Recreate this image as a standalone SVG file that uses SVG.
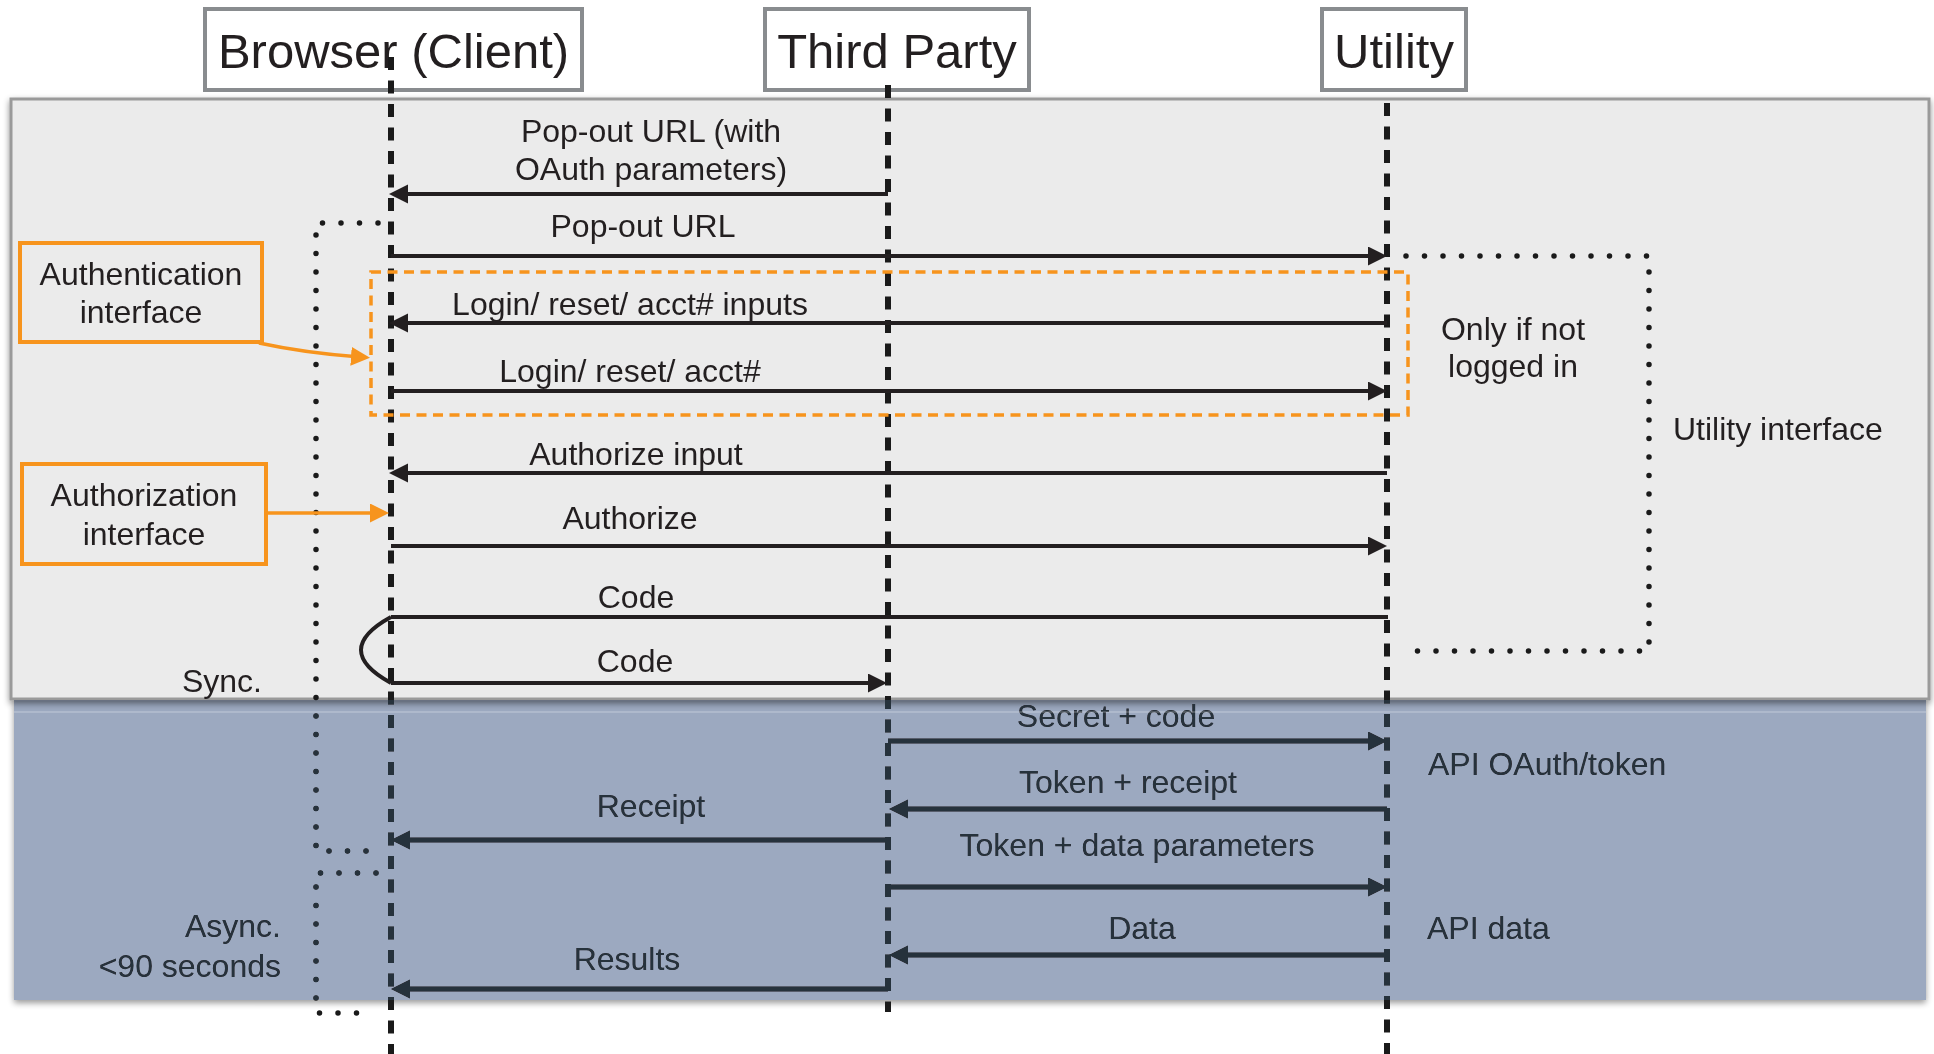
<svg xmlns="http://www.w3.org/2000/svg" width="1934" height="1054" viewBox="0 0 1934 1054">
  <defs>
    <style>
      text{font-family:"Liberation Sans",Arial,Helvetica,sans-serif;fill:#231f20;font-size:32px}
      .title{font-size:49px;text-anchor:middle}
      .c{text-anchor:middle}
      .e{text-anchor:end}
      .lifeline{fill:none;stroke:#1a1a1a;stroke-width:6;stroke-dasharray:13 10.5}
      .msg{fill:none;stroke:#231f20;stroke-width:4}
      .api{stroke-width:5}
      .dots{fill:none;stroke:#1a1a1a;stroke-width:5.5;stroke-linecap:round;stroke-dasharray:0 18.5}
      .hdr{fill:#fff;stroke:#898c8f;stroke-width:4}
      .note{fill:none;stroke:#f7941d;stroke-width:4}
      .pointer{fill:none;stroke:#f7941d;stroke-width:3.5}
      .group{fill:none;stroke:#f7941d;stroke-width:3.5;stroke-dasharray:10 6.5}
    </style>
    <marker id="ah" markerUnits="userSpaceOnUse" markerWidth="20" markerHeight="20" refX="9" refY="9.5" orient="auto">
      <path d="M0,0 L19,9.5 L0,19z" fill="#231f20"/>
    </marker>
    <marker id="ahO" markerUnits="userSpaceOnUse" markerWidth="20" markerHeight="20" refX="9" refY="9.5" orient="auto">
      <path d="M0,0 L19,9.5 L0,19z" fill="#f7941d"/>
    </marker>
    <filter id="shadow" x="-3%" y="-5%" width="106%" height="112%">
      <feDropShadow dx="0" dy="3" stdDeviation="3" flood-color="#000" flood-opacity="0.45"/>
    </filter>
    <filter id="blur" x="-3%" y="-10%" width="106%" height="120%">
      <feGaussianBlur stdDeviation="3"/>
    </filter>
    <clipPath id="outsideApi">
      <path clip-rule="evenodd" d="M0 0H1934V1054H0Z M14 700H1926V1000H14Z"/>
    </clipPath>
  </defs>

  <rect width="1934" height="1054" fill="#fff"/>

  <!-- shadow of the API band, kept outside the band itself -->
  <g clip-path="url(#outsideApi)">
    <rect x="14" y="703" width="1912" height="300" fill="#000" opacity="0.4" filter="url(#blur)"/>
  </g>

  <!-- utility interface panel -->
  <rect id="panel-ui" x="11" y="99" width="1918" height="600" fill="#ebebeb" stroke="#9a9a9a" stroke-width="3" filter="url(#shadow)"/>

  <!-- participants -->
  <g id="browser">
    <rect class="hdr" x="205" y="9" width="377" height="81"/>
    <text class="title" x="393.5" y="68">Browser (Client)</text>
  </g>
  <g id="third-party">
    <rect class="hdr" x="765" y="9" width="264" height="81"/>
    <text class="title" x="897" y="68">Third Party</text>
  </g>
  <g id="utility">
    <rect class="hdr" x="1322" y="9" width="144" height="81"/>
    <text class="title" x="1394" y="68">Utility</text>
  </g>

  <!-- lifelines -->
  <g id="lifelines">
    <line class="lifeline" x1="391" y1="57" x2="391" y2="1054"/>
    <line class="lifeline" x1="888" y1="85" x2="888" y2="1012"/>
    <line class="lifeline" x1="1387" y1="103" x2="1387" y2="1054"/>
  </g>

  <!-- dotted brackets -->
  <g id="sync-bracket">
    <path class="dots" d="M378,223 H316 V851 H372"/>
    <text class="e" x="262" y="692">Sync.</text>
  </g>
  <g id="async-bracket">
    <path class="dots" d="M376,873 H316 V1013 H374"/>
    <text class="e" x="281" y="937">Async.</text>
    <text class="e" x="281" y="977">&lt;90 seconds</text>
  </g>
  <g id="utility-interface">
    <path class="dots" d="M1406,256 H1649 V651 H1412"/>
    <text x="1673" y="440">Utility interface</text>
  </g>

  <!-- login group -->
  <g id="login-group">
    <rect class="group" x="371" y="272" width="1037" height="143"/>
    <text class="c" x="1513" y="340">Only if not</text>
    <text class="c" x="1513" y="377">logged in</text>
  </g>

  <!-- notes -->
  <g id="authentication-note">
    <rect class="note" x="20" y="243" width="242" height="99"/>
    <text class="c" x="141" y="285">Authentication</text>
    <text class="c" x="141" y="323">interface</text>
  </g>
  <g id="authorization-note">
    <rect class="note" x="22" y="464" width="244" height="100"/>
    <text class="c" x="144" y="506">Authorization</text>
    <text class="c" x="144" y="545">interface</text>
  </g>

  <!-- messages -->
  <g id="connectors">
    <path class="pointer" d="M259,343 Q305,353 360,357" marker-end="url(#ahO)"/>
    <path class="pointer" d="M266,513 H379" marker-end="url(#ahO)"/>

    <path class="msg" d="M888,194 H399" marker-end="url(#ah)"/>
    <path class="msg" d="M391,256 H1377" marker-end="url(#ah)"/>
    <path class="msg" d="M1387,323 H399" marker-end="url(#ah)"/>
    <path class="msg" d="M391,391 H1377" marker-end="url(#ah)"/>
    <path class="msg" d="M1387,473 H399" marker-end="url(#ah)"/>
    <path class="msg" d="M391,546 H1377" marker-end="url(#ah)"/>
    <path class="msg" d="M1388,617 H391"/>
    <path class="msg" d="M391,617 Q331,650 391,683"/>
    <path class="msg" d="M391,683 H877" marker-end="url(#ah)"/>

    <path class="msg api" d="M888,741 H1377" marker-end="url(#ah)"/>
    <path class="msg api" d="M1387,809 H899" marker-end="url(#ah)"/>
    <path class="msg api" d="M888,840 H401" marker-end="url(#ah)"/>
    <path class="msg api" d="M888,887 H1377" marker-end="url(#ah)"/>
    <path class="msg api" d="M1387,955 H899" marker-end="url(#ah)"/>
    <path class="msg api" d="M888,989 H401" marker-end="url(#ah)"/>
  </g>

  <!-- message labels -->
  <g id="labels">
    <text class="c" x="651" y="142">Pop-out URL (with</text>
    <text class="c" x="651" y="180">OAuth parameters)</text>
    <text class="c" x="643" y="237">Pop-out URL</text>
    <text class="c" x="630" y="315">Login/ reset/ acct# inputs</text>
    <text class="c" x="630" y="382">Login/ reset/ acct#</text>
    <text class="c" x="636" y="465">Authorize input</text>
    <text class="c" x="630" y="529">Authorize</text>
    <text class="c" x="636" y="608">Code</text>
    <text class="c" x="635" y="672">Code</text>

    <text class="c" x="1116" y="727">Secret + code</text>
    <text class="c" x="1128" y="793">Token + receipt</text>
    <text class="c" x="651" y="817">Receipt</text>
    <text class="c" x="1137" y="856">Token + data parameters</text>
    <text class="c" x="1142" y="939">Data</text>
    <text class="c" x="627" y="970">Results</text>
  </g>
  <g id="api-labels">
    <text x="1428" y="775">API OAuth/token</text>
    <text x="1427" y="939">API data</text>
  </g>

  <!-- API band: tints the white ground blue and the dark ink slate -->
  <g id="panel-api">
    <rect x="14" y="700" width="1912" height="300" fill="#9ca9c0" style="mix-blend-mode:multiply"/>
    <rect x="14" y="700" width="1912" height="300" fill="#26323c" style="mix-blend-mode:lighten"/>
    <line x1="14" y1="712" x2="1926" y2="712" stroke="#fff" stroke-opacity="0.25" stroke-width="1.5"/>
  </g>
</svg>
